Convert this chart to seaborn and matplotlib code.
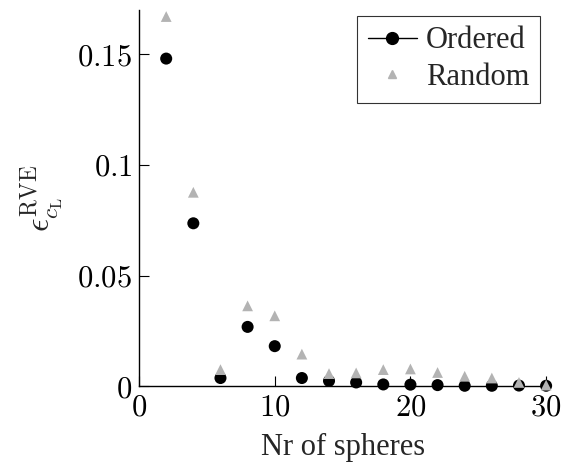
import numpy as np
import pandas as pd
import matplotlib
matplotlib.use("Agg")
import matplotlib.pyplot as plt
from matplotlib.lines import Line2D
import seaborn as sns

n_spheres = [2, 4, 6, 8, 10, 12, 14, 16, 18, 20, 22, 24, 26, 28, 30]
ordered = [0.148, 0.0736, 0.0037, 0.0268, 0.0181, 0.0037, 0.0024, 0.0017,
           0.0008, 0.0007, 0.0005, 0.0002, 0.0002, 0.0003, 0.0002]
random_ = [0.167, 0.0876, 0.0075, 0.0363, 0.0318, 0.0145, 0.0057, 0.0060,
           0.0075, 0.0078, 0.0062, 0.0045, 0.0037, 0.0017, 0.0005]
xticks = [0, 10, 20, 30]
xticklabels = ["$0$", "$10$", "$20$", "$30$"]
yticks = [0, 0.05, 0.1, 0.15]
yticklabels = ["$0$", "$0.05$", "$0.1$", "$0.15$"]

sns.set_style("white")
plt.rcParams["font.family"] = ["Liberation Serif", "DejaVu Serif"]
plt.rcParams["mathtext.fontset"] = "cm"

df_o = pd.DataFrame({"n": n_spheres, "err": ordered})
df_r = pd.DataFrame({"n": n_spheres, "err": random_})

fig = plt.figure(figsize=(5.63, 4.71), dpi=100)
ax = fig.add_axes([0.247, 0.180, 0.723, 0.799])

gray = "#b3b3b3"
sns.scatterplot(data=df_r, x="n", y="err", ax=ax, marker="^", color=gray,
                s=60, edgecolor="none", clip_on=False, zorder=3)
sns.scatterplot(data=df_o, x="n", y="err", ax=ax, marker="o", color="black",
                s=75, edgecolor="none", clip_on=False, zorder=2)

ax.set_xlim(0, 30)
ax.set_ylim(0, 0.17)
ax.set_xticks(xticks)
ax.set_xticklabels(xticklabels)
ax.set_yticks(yticks)
ax.set_yticklabels(yticklabels)
ax.tick_params(axis="both", direction="in", length=7, width=0.8,
               labelsize=22, colors="black", pad=5,
               bottom=True, left=True, top=False, right=False)
for s in ["top", "right"]:
    ax.spines[s].set_visible(False)
for s in ["left", "bottom"]:
    ax.spines[s].set_color("black")
    ax.spines[s].set_linewidth(1.0)

ax.set_xlabel("Nr of spheres", fontsize=22, labelpad=8)
ax.set_ylabel(r"$\epsilon^{\mathrm{RVE}}_{c_{\mathrm{L}}}$", fontsize=24, labelpad=8)

handles = [
    Line2D([], [], color="black", marker="o", markersize=8.5, linewidth=1.0),
    Line2D([], [], color=gray, marker="^", markersize=6, linestyle="none"),
]
leg = ax.legend(handles, ["Ordered", "Random"], loc="upper right",
                bbox_to_anchor=(0.985, 0.985), fontsize=22, frameon=True,
                fancybox=False, edgecolor="black", handlelength=1.6,
                handletextpad=0.3, borderpad=0.35, labelspacing=0.25,
                borderaxespad=0.0)
leg.get_frame().set_linewidth(0.8)

fig.savefig("out.png", dpi=100)
